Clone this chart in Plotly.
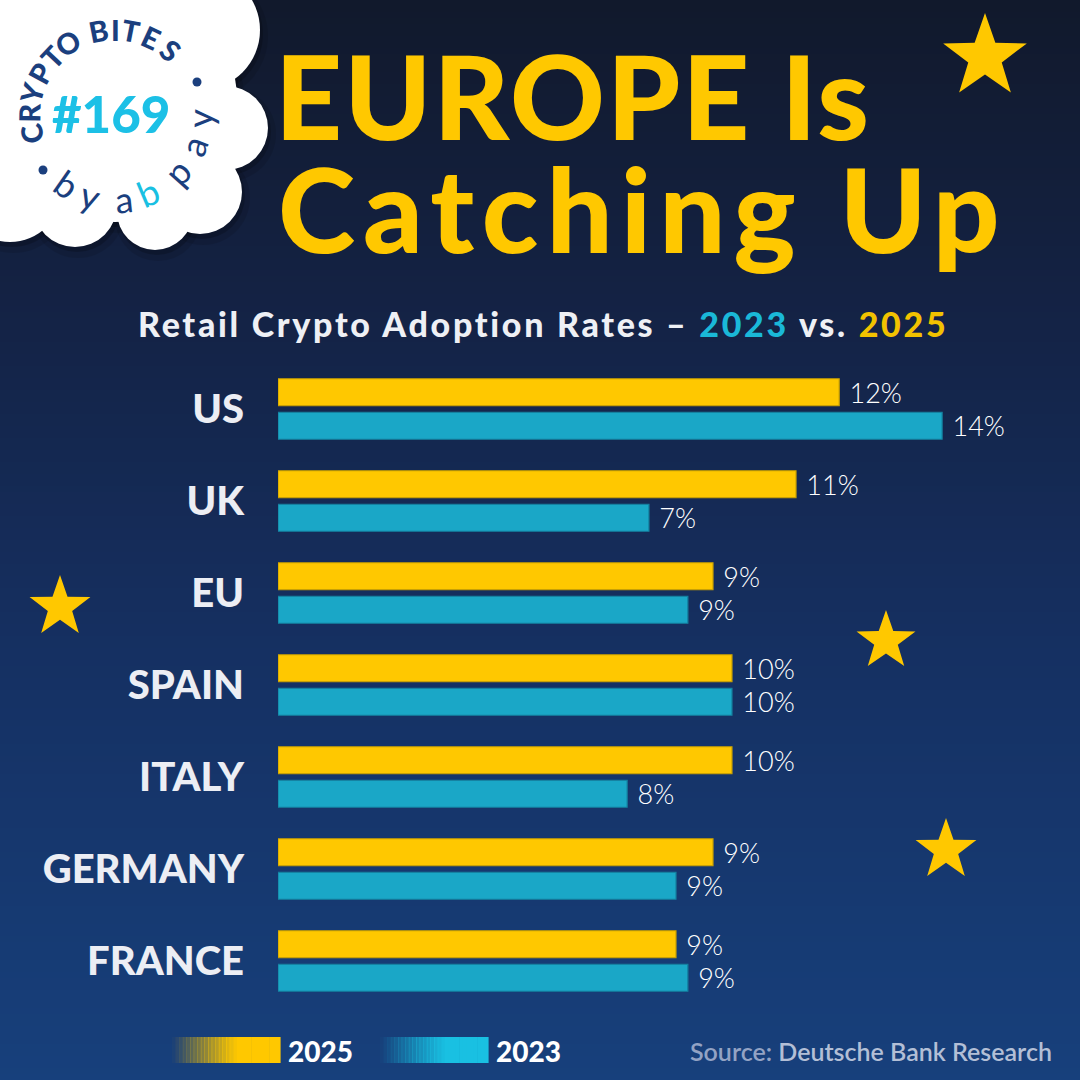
import math
import plotly.graph_objects as go

# ---------------- data ----------------
countries = ["US", "UK", "EU", "SPAIN", "ITALY", "GERMANY", "FRANCE"]
rate_2025 = [11.83, 10.92, 9.17, 9.57, 9.57, 9.17, 8.39]   # bar lengths as drawn
rate_2023 = [14.0, 7.82, 8.64, 9.57, 7.36, 8.39, 8.64]
label_2025 = ["12%", "11%", "9%", "10%", "10%", "9%", "9%"]
label_2023 = ["14%", "7%", "9%", "10%", "8%", "9%", "9%"]
series_names = ["2025", "2023"]

# ---------------- geometry helpers ----------------
W = H = 1080
L, R, T, B = 278, 1037, 363, 1007


def X(px):
    return (px - L) / (R - L)


def Y(py):
    return (B - py) / (B - T)


YELLOW = "#ffc800"
CYAN = "#1aa7c7"
CYAN_LIGHT = "#19c0e2"
NAVY = "#1b3f7e"
FONT = "Lato"

fig = go.Figure()
fig.add_trace(go.Bar(
    y=countries, x=rate_2025, name=series_names[0], orientation="h",
    marker=dict(color=YELLOW, line=dict(color="#c9a000", width=1.2)),
    text=label_2025, texttemplate=" %{text}", textposition="outside",
    textfont=dict(family=FONT, size=27, color="white", weight=300),
    cliponaxis=False, constraintext="none", hoverinfo="skip",
))
fig.add_trace(go.Bar(
    y=countries, x=rate_2023, name=series_names[1], orientation="h",
    marker=dict(color=CYAN, line=dict(color="#14809f", width=1.2)),
    text=label_2023, texttemplate=" %{text}", textposition="outside",
    textfont=dict(family=FONT, size=27, color="white", weight=300),
    cliponaxis=False, constraintext="none", hoverinfo="skip",
))

shapes = []
annotations = []

# ---------------- background gradient ----------------
stops = [(0.0, (17, 25, 44)), (0.3, (20, 35, 70)), (0.6, (21, 48, 98)), (1.0, (23, 64, 124))]


def grad(t):
    for (t0, c0), (t1, c1) in zip(stops[:-1], stops[1:]):
        if t <= t1:
            f = (t - t0) / (t1 - t0)
            return "rgb(%d,%d,%d)" % tuple(round(a + (b - a) * f) for a, b in zip(c0, c1))
    return "rgb(%d,%d,%d)" % stops[-1][1]


step = 6
for py in range(0, H, step):
    shapes.append(dict(type="rect", xref="paper", yref="paper", layer="below",
                       x0=X(-2), x1=X(W + 2), y0=Y(py + step + 1), y1=Y(py),
                       fillcolor=grad(py / H), line=dict(width=0)))


# ---------------- stars ----------------
def star(cx, cy, r):
    pts = []
    for k in range(10):
        ang = -math.pi / 2 + k * math.pi / 5
        rr = r if k % 2 == 0 else r * 0.40
        pts.append((X(cx + rr * math.cos(ang)), Y(cy + rr * math.sin(ang))))
    path = "M " + " L ".join("%.5f,%.5f" % p for p in pts) + " Z"
    return dict(type="path", xref="paper", yref="paper", layer="below", path=path,
                fillcolor=YELLOW, line=dict(width=0))


for cx, cy, r in [(985, 57, 44), (60, 607, 32), (886, 641, 31), (946, 850, 32)]:
    shapes.append(star(cx, cy, r))

# ---------------- badge cloud ----------------
cloud = [(115, 100, 122), (200, 30, 60), (226, 128, 42), (200, 192, 42),
         (155, 212, 38), (75, 205, 42), (10, 190, 52), (20, 20, 70)]


def circ(cx, cy, r, color):
    return dict(type="circle", xref="paper", yref="paper", layer="below",
                x0=X(cx - r), x1=X(cx + r), y0=Y(cy + r), y1=Y(cy - r),
                fillcolor=color, line=dict(width=0))


for cx, cy, r in cloud:
    shapes.append(circ(cx + 3, cy + 6, r + 5, "rgba(0,0,0,0.10)"))
for cx, cy, r in cloud:
    shapes.append(circ(cx + 2, cy + 4, r + 1, "rgba(0,0,0,0.18)"))
for cx, cy, r in cloud:
    shapes.append(circ(cx, cy, r, "white"))
for cx, cy, r in [(197, 82, 4.5), (43, 170, 4.5)]:
    shapes.append(circ(cx, cy, r, NAVY))

BC = (115, 115)


def arc_letter(ch, theta_deg, radius, size, color, weight, top=True):
    th = math.radians(theta_deg)
    px = BC[0] + radius * math.cos(th)
    py = BC[1] + radius * math.sin(th)
    ang = theta_deg + 90 if top else theta_deg - 90
    annotations.append(dict(text=ch, x=X(px), y=Y(py), xref="paper", yref="paper",
                            xanchor="center", yanchor="middle", showarrow=False,
                            textangle=ang,
                            font=dict(family=FONT, size=size, color=color, weight=weight)))


top_text = "CRYPTO BITES"
top_angles = [167, 181, 195, 209, 223, 237, 248, 259, 270, 281, 295, 311]
for ch, a in zip(top_text, top_angles):
    if ch != " ":
        arc_letter(ch, a, 86, 29, NAVY, 900, top=True)

bottom_letters = ["b", "y", "a", "b", "p", "a", "y"]
bottom_angles = [125, 107, 84, 67, 42, 21, 2]
bottom_colors = [NAVY, NAVY, NAVY, CYAN_LIGHT, NAVY, NAVY, NAVY]
for ch, a, c in zip(bottom_letters, bottom_angles, bottom_colors):
    arc_letter(ch, a, 84, 36, c, 400, top=False)

annotations.append(dict(text="#169", x=X(111), y=Y(114), xref="paper", yref="paper",
                        xanchor="center", yanchor="middle", showarrow=False,
                        font=dict(family=FONT, size=51, color="#1cc0e6", weight=900)))

# ---------------- title & subtitle ----------------
annotations.append(dict(text="<span style='letter-spacing:2px'>EUROPE Is</span>",
                        x=X(273), y=Y(95), xref="paper", yref="paper",
                        xanchor="left", yanchor="middle", showarrow=False,
                        font=dict(family=FONT, size=117, color=YELLOW, weight=900)))
annotations.append(dict(text="<span style='letter-spacing:8px'>Catching Up</span>",
                        x=X(276), y=Y(208), xref="paper", yref="paper",
                        xanchor="left", yanchor="middle", showarrow=False,
                        font=dict(family=FONT, size=117, color=YELLOW, weight=900)))
annotations.append(dict(
    text="<span style='letter-spacing:2.7px'>Retail Crypto Adoption Rates – "
         "<span style='color:#1ab8d8'>2023</span> vs. "
         "<span style='color:#f2c200'>2025</span></span>",
    x=X(543), y=Y(323), xref="paper", yref="paper", xanchor="center", yanchor="middle",
    showarrow=False, font=dict(family=FONT, size=34, color="#eef0f5", weight=900)))

# ---------------- custom legend ----------------
def legend_bar(x0, x1, y0, y1, rgb, n=30):
    w = (x1 - x0) / n
    for i in range(n):
        t = (i + 0.5) / n
        a = min(1.0, t / 0.6)
        shapes.append(dict(type="rect", xref="paper", yref="paper", layer="above",
                           x0=X(x0 + i * w), x1=X(x0 + (i + 1) * w + 0.6),
                           y0=Y(y1), y1=Y(y0),
                           fillcolor="rgba(%d,%d,%d,%.3f)" % (rgb + (a,)), line=dict(width=0)))


legend_bar(172, 280, 1037, 1063, (255, 200, 0))
legend_bar(380, 488, 1037, 1063, (25, 192, 226))
annotations.append(dict(text=series_names[0], x=X(286), y=Y(1051), xref="paper", yref="paper",
                        xanchor="left", yanchor="middle", showarrow=False,
                        font=dict(family=FONT, size=28, color="white", weight=900)))
annotations.append(dict(text=series_names[1], x=X(494), y=Y(1051), xref="paper", yref="paper",
                        xanchor="left", yanchor="middle", showarrow=False,
                        font=dict(family=FONT, size=28, color="white", weight=900)))
annotations.append(dict(
    text="<span style='color:#93a3c4'>Source: </span>Deutsche Bank Research",
    x=X(1054), y=Y(1051), xref="paper", yref="paper", xanchor="right", yanchor="middle",
    showarrow=False, font=dict(family=FONT, size=25, color="#b3bfd6", weight=600)))

fig.update_layout(
    width=W, height=H,
    margin=dict(l=L, r=W - R, t=T, b=H - B, autoexpand=False),
    paper_bgcolor="#15284f", plot_bgcolor="rgba(0,0,0,0)",
    barmode="group", bargap=0.272, bargroupgap=0.194,
    showlegend=False,
    shapes=shapes, annotations=annotations,
    xaxis=dict(range=[0, 16], visible=False, fixedrange=True),
    yaxis=dict(categoryorder="array", categoryarray=countries, autorange="reversed",
               showgrid=False, zeroline=False, showline=False, ticks="",
               ticklabelstandoff=33,
               tickfont=dict(family=FONT, size=40, color="#eceef4", weight=900)),
)

fig.write_html("out.html")
